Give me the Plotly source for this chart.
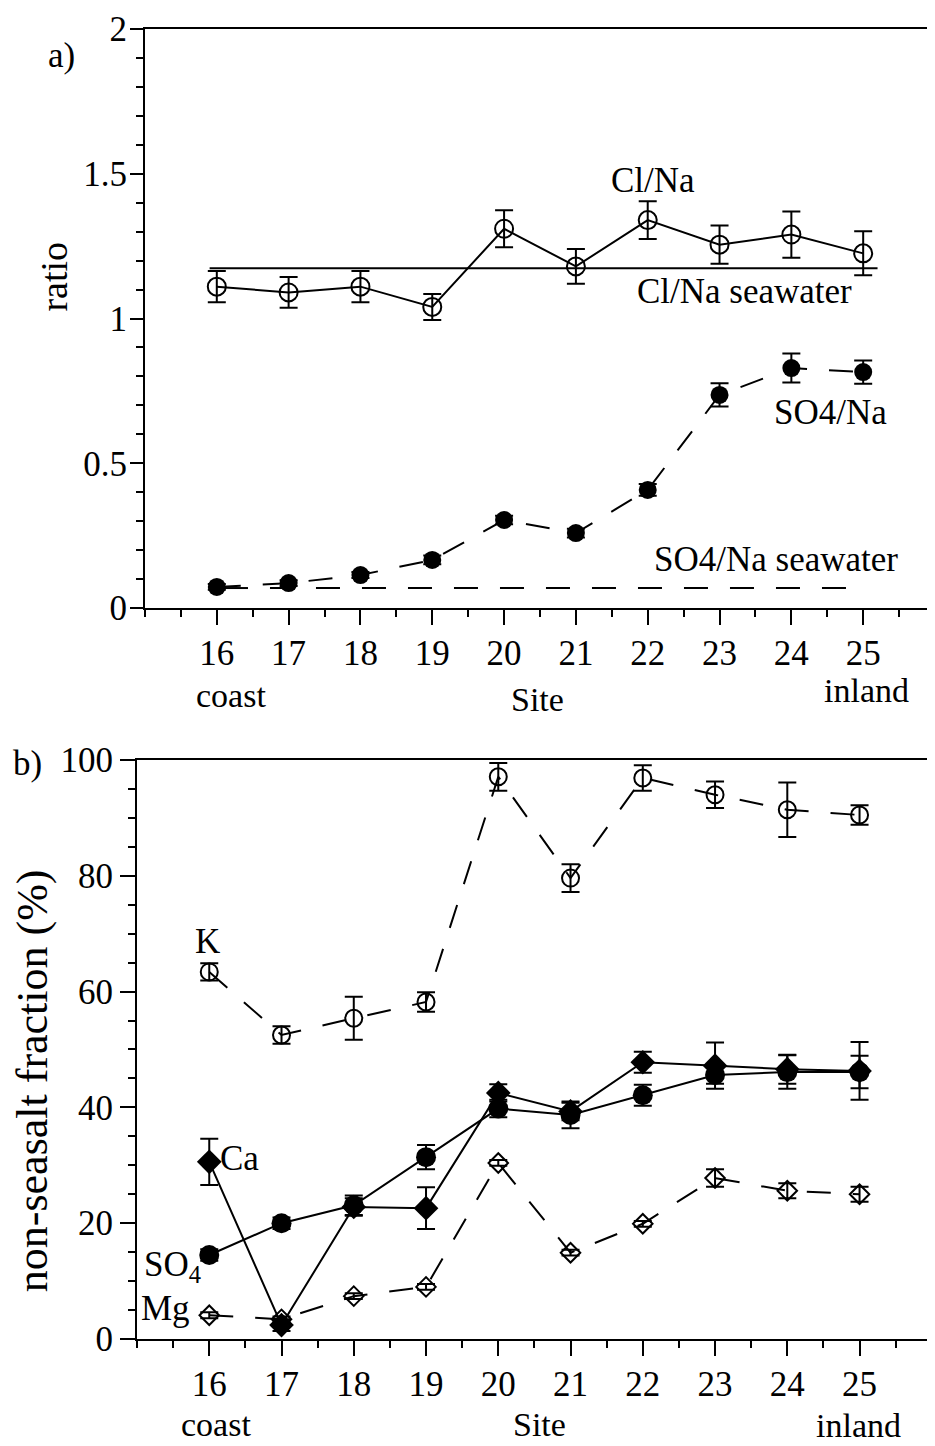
import plotly.graph_objects as go

# ---------------- data ----------------
sites = [16, 17, 18, 19, 20, 21, 22, 23, 24, 25]
site_labels = ["16", "17", "18", "19", "20", "21", "22", "23", "24", "25"]

# panel a) ratios
cl_na = [1.11, 1.09, 1.11, 1.04, 1.31, 1.18, 1.34, 1.255, 1.29, 1.225]
cl_na_err = [0.054, 0.053, 0.054, 0.045, 0.064, 0.06, 0.065, 0.066, 0.08, 0.076]
so4_na = [0.073, 0.086, 0.114, 0.166, 0.304, 0.259, 0.408, 0.736, 0.829, 0.815]
so4_na_err = [0.01, 0.01, 0.01, 0.015, 0.015, 0.015, 0.02, 0.04, 0.05, 0.04]
cl_na_seawater = 1.174
cl_na_seawater_x = [15.9, 25.2]
so4_na_seawater = 0.069
so4_na_seawater_x = [16.1, 25.0]

# panel b) non-seasalt fraction (%)
k_frac = [63.4, 52.5, 55.4, 58.2, 97.1, 79.6, 96.9, 94.0, 91.4, 90.5]
k_err = [1.5, 1.5, 3.7, 1.7, 2.4, 2.4, 2.2, 2.3, 4.7, 1.7]
so4_frac = [14.5, 20.0, 23.1, 31.4, 39.8, 38.7, 42.1, 45.6, 46.1, 46.1]
so4_err = [1.0, 1.0, 1.7, 2.1, 1.5, 2.3, 1.8, 1.5, 2.9, 2.8]
ca_frac = [30.6, 2.4, 22.8, 22.6, 42.5, 39.3, 47.8, 47.2, 46.6, 46.3]
ca_err = [4.0, 1.0, 1.5, 3.6, 1.5, 1.5, 1.8, 4.0, 2.5, 5.0]
mg_frac = [4.1, 3.4, 7.4, 9.0, 30.4, 14.9, 19.9, 27.8, 25.6, 25.0]
mg_err = [0.5, 0.5, 0.5, 0.5, 0.5, 0.5, 0.5, 1.5, 1.3, 1.3]

a_yticks = [0, 0.5, 1, 1.5, 2]
a_yticklabels = ["0", "0.5", "1", "1.5", "2"]
b_yticks = [0, 20, 40, 60, 80, 100]
b_yticklabels = ["0", "20", "40", "60", "80", "100"]

# ---------------- styling ----------------
FONT = "Liberation Serif"
BLACK = "black"
DASH = "24px,22px"
TICKSIZE = 35


def err(arr):
    return dict(type="data", array=arr, visible=True, color=BLACK, thickness=2, width=9)


fig = go.Figure()

# ---- panel a ----
fig.add_trace(go.Scatter(x=cl_na_seawater_x, y=[cl_na_seawater] * 2, mode="lines",
                         line=dict(color=BLACK, width=2), xaxis="x", yaxis="y", showlegend=False))
fig.add_trace(go.Scatter(x=so4_na_seawater_x, y=[so4_na_seawater] * 2, mode="lines",
                         line=dict(color=BLACK, width=2, dash=DASH), xaxis="x", yaxis="y", showlegend=False))
fig.add_trace(go.Scatter(x=sites, y=cl_na, mode="lines+markers", error_y=err(cl_na_err),
                         line=dict(color=BLACK, width=2),
                         marker=dict(symbol="circle-open", size=18, color=BLACK, line=dict(width=2, color=BLACK)),
                         xaxis="x", yaxis="y", showlegend=False))
fig.add_trace(go.Scatter(x=sites, y=so4_na, mode="lines+markers", error_y=err(so4_na_err),
                         line=dict(color=BLACK, width=2, dash=DASH),
                         marker=dict(symbol="circle", size=18, color=BLACK),
                         xaxis="x", yaxis="y", showlegend=False))

# ---- panel b ----
fig.add_trace(go.Scatter(x=sites, y=k_frac, mode="lines+markers", error_y=err(k_err),
                         line=dict(color=BLACK, width=2, dash=DASH),
                         marker=dict(symbol="circle-open", size=17, color=BLACK, line=dict(width=2, color=BLACK)),
                         xaxis="x2", yaxis="y2", showlegend=False))
fig.add_trace(go.Scatter(x=sites, y=mg_frac, mode="lines+markers", error_y=err(mg_err),
                         line=dict(color=BLACK, width=2, dash=DASH),
                         marker=dict(symbol="diamond-open", size=15, color=BLACK, line=dict(width=2, color=BLACK)),
                         xaxis="x2", yaxis="y2", showlegend=False))
fig.add_trace(go.Scatter(x=sites, y=ca_frac, mode="lines+markers", error_y=err(ca_err),
                         line=dict(color=BLACK, width=2),
                         marker=dict(symbol="diamond", size=19, color=BLACK),
                         xaxis="x2", yaxis="y2", showlegend=False))
fig.add_trace(go.Scatter(x=sites, y=so4_frac, mode="lines+markers", error_y=err(so4_err),
                         line=dict(color=BLACK, width=2),
                         marker=dict(symbol="circle", size=20, color=BLACK),
                         xaxis="x2", yaxis="y2", showlegend=False))

x_minor = [15] + [s - 0.5 for s in sites] + [25.5, 26]

common_x = dict(range=[15, 26], tickvals=sites, ticktext=site_labels,
                ticks="outside", ticklen=15, tickwidth=2, tickcolor=BLACK,
                showline=True, linewidth=2, linecolor=BLACK, mirror=True,
                showgrid=False, zeroline=False, ticklabelstandoff=-2,
                tickfont=dict(family=FONT, size=TICKSIZE, color=BLACK),
                minor=dict(tickvals=x_minor, ticks="outside", ticklen=7, tickwidth=2, tickcolor=BLACK, showgrid=False))

# page body has an 8px default margin: figure is sized so the page fits the 935x1446 window
fig.update_layout(
    width=927, height=1438,
    margin=dict(l=129, r=0, t=21, b=107),
    paper_bgcolor="white", plot_bgcolor="white",
    font=dict(family=FONT, color=BLACK, size=34),
    xaxis=dict(domain=[0.010, 1.0], anchor="y", **common_x),
    yaxis=dict(domain=[0.558, 1.0], anchor="x", range=[0, 2], tickvals=a_yticks, ticktext=a_yticklabels,
               ticks="outside", ticklen=13, tickwidth=2, tickcolor=BLACK,
               showline=True, linewidth=2, linecolor=BLACK, showgrid=False, zeroline=False,
               ticklabelstandoff=-4,
               tickfont=dict(family=FONT, size=TICKSIZE, color=BLACK),
               minor=dict(dtick=0.1, ticks="outside", ticklen=7, tickwidth=2, tickcolor=BLACK, showgrid=False)),
    xaxis2=dict(domain=[0.0, 0.996], anchor="y2", **common_x),
    yaxis2=dict(domain=[0.0, 0.442], anchor="x2", range=[0, 100], tickvals=b_yticks, ticktext=b_yticklabels,
                ticks="outside", ticklen=15, tickwidth=2, tickcolor=BLACK,
                showline=True, linewidth=2, linecolor=BLACK, mirror=True, showgrid=False, zeroline=False,
                ticklabelstandoff=0,
                tickfont=dict(family=FONT, size=TICKSIZE, color=BLACK),
                minor=dict(dtick=5, ticks="outside", ticklen=7, tickwidth=2, tickcolor=BLACK, showgrid=False)),
)


def txt(text, x, y, xref, yref, size=35, angle=0):
    fig.add_annotation(text=text, x=x, y=y, xref=xref, yref=yref, showarrow=False,
                       font=dict(family=FONT, size=size, color=BLACK), textangle=angle,
                       xanchor="center", yanchor="middle")


# panel a labels
txt("a)", -0.094, 0.980, "paper", "paper")
txt("ratio", -0.104, 0.811, "paper", "paper", size=38, angle=-90)
txt("Cl/Na", 22.08, 1.478, "x", "y")
txt("Cl/Na seawater", 23.35, 1.092, "x", "y")
txt("SO4/Na", 24.54, 0.674, "x", "y")
txt("SO4/Na seawater", 23.78, 0.166, "x", "y")
txt("coast", 16.2, 0.4916, "x", "paper", size=34)
txt("Site", 20.46, 0.4885, "x", "paper", size=34)
txt("inland", 25.04, 0.4950, "x", "paper", size=34)

# panel b labels
txt("b)", -0.137, 0.439, "paper", "paper")
txt("non-seasalt fraction (%)", -0.130, 0.197, "paper", "paper", size=44, angle=-90)
txt("K", 15.97, 68.7, "x2", "y2")
txt("Ca", 16.42, 31.1, "x2", "y2")
txt("SO<sub>4</sub>", 15.49, 12.5, "x2", "y2")
txt("Mg", 15.40, 5.2, "x2", "y2")
txt("coast", 16.1, -0.0649, "x2", "paper", size=34)
txt("Site", 20.57, -0.0649, "x2", "paper", size=34)
txt("inland", 24.99, -0.0664, "x2", "paper", size=34)

fig.write_html("out.html")
